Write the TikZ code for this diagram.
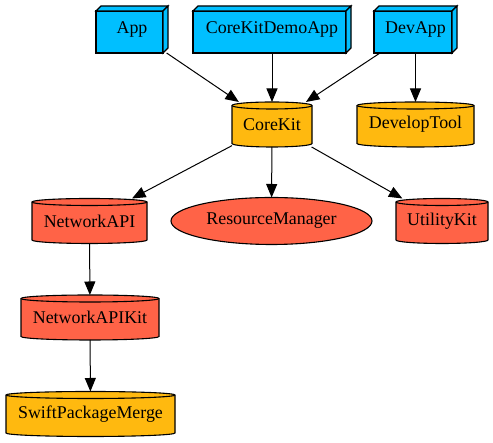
\documentclass[tikz,border=0pt]{standalone}
\usepackage{fontspec}
\setmainfont{Liberation Serif}
\usetikzlibrary{shapes.geometric,arrows.meta}
\definecolor{appblue}{HTML}{00BFFF}
\definecolor{gold}{HTML}{FFB90F}
\definecolor{tomato}{HTML}{FF6347}
\newcommand\cylry{3.5}
% name, cx, cy, width, fill, text  (height 45)
\newcommand\cylnode[6]{%
  \path[nodeline, fill=#5] ({#2-#4/2},{#3+22.5-\cylry}) -- ({#2-#4/2},{#3-22.5+\cylry})
    arc[start angle=180,end angle=360,x radius={#4/2},y radius=\cylry]
    -- ({#2+#4/2},{#3+22.5-\cylry})
    arc[start angle=0,end angle=180,x radius={#4/2},y radius=\cylry] -- cycle;
  \draw[nodeline] ({#2-#4/2},{#3+22.5-\cylry})
    arc[start angle=180,end angle=360,x radius={#4/2},y radius=\cylry];
  \node[lbl, minimum width=#4, minimum height=45] (#1) at (#2,#3) {#6};
}
% name, x1, x2, text  (front face 390..432, offset 5)
\newcommand\boxnode[4]{%
  \path[nodeline, fill=appblue] (#2,390) rectangle (#3,432);
  \path[nodeline, fill=appblue] (#2,432) -- ({#2+5},437) -- ({#3+5},437) -- (#3,432) -- cycle;
  \path[nodeline, fill=appblue] (#3,432) -- ({#3+5},437) -- ({#3+5},395) -- (#3,390) -- cycle;
  \node[lbl, minimum width={#3-#2+5}, minimum height=47] (#1) at ({(#2+#3+5)/2},413.5) {#4};
}
\tikzset{
  nodeline/.style={draw=black, line width=1.1pt, line join=miter},
  lbl/.style={inner sep=0pt, outer sep=0pt, draw=none},
  edge/.style={draw=black, line width=1pt, -{Triangle[length=13.5pt,width=11pt]}},
}
\begin{document}
\begin{tikzpicture}[x=1pt,y=1pt,font=\fontsize{17.9}{20}\selectfont]
\useasboundingbox (0,0) rectangle (493,443);
\boxnode{app}{96}{163}{App}
\boxnode{demo}{193}{346}{CoreKitDemoApp}
\boxnode{dev}{374}{452}{DevApp}
\cylnode{corekit}{272}{318.5}{80}{gold}{CoreKit}
\cylnode{devtool}{415.5}{318.5}{117}{gold}{DevelopTool}
\cylnode{netapi}{89.5}{222}{115}{tomato}{NetworkAPI}
\node[ellipse, nodeline, fill=tomato, inner sep=0pt, outer sep=0pt, minimum width=201, minimum height=47] (res) at (271.5,222) {ResourceManager};
\cylnode{util}{442}{222}{92}{tomato}{UtilityKit}
\cylnode{netkit}{90}{125.5}{138}{tomato}{NetworkAPIKit}
\cylnode{spm}{90.5}{29}{169}{gold}{SwiftPackageMerge}
\draw[edge] (app) -- (corekit);
\draw[edge] (demo) -- (corekit);
\draw[edge] (dev) -- (corekit);
\draw[edge] (dev) -- (devtool);
\draw[edge] (corekit) -- (netapi);
\draw[edge] (corekit) -- (res);
\draw[edge] (corekit) -- (util);
\draw[edge] (netapi) -- (netkit);
\draw[edge] (netkit) -- (spm);
\end{tikzpicture}
\end{document}
